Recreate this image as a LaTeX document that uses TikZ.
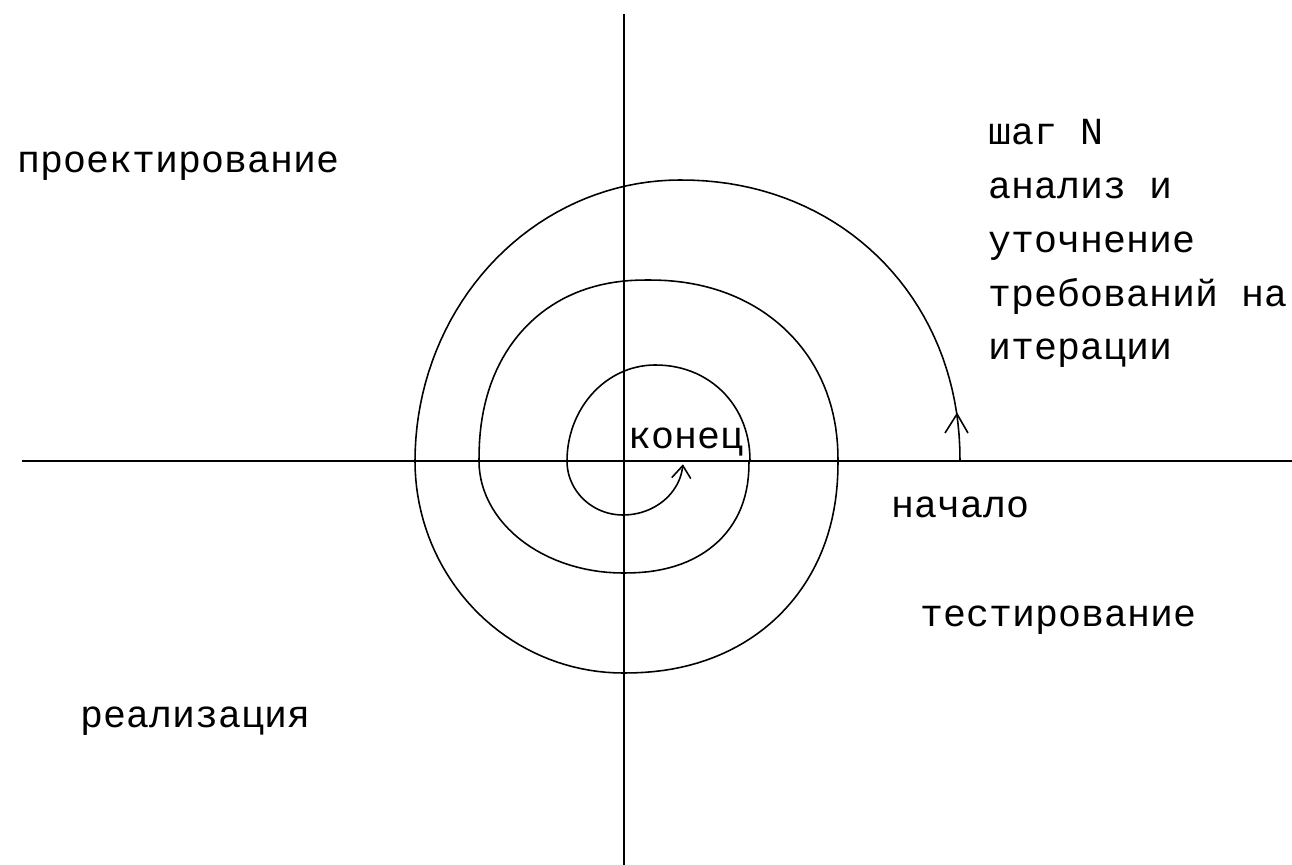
\documentclass[tikz,border=0pt]{standalone}
\usepackage{fontspec}
\usetikzlibrary{calc}
\newfontfamily\labelfont{Liberation Mono}
\begin{document}
\begin{tikzpicture}[x=0.02cm,y=-0.02cm,
  axis/.style={line width=1.2pt},
  spiralline/.style={line width=0.9pt,line join=round},
  headline/.style={line width=0.9pt},
  lbl/.style={anchor=base west,inner sep=0pt,font=\labelfont\fontsize{21.8pt}{30pt}\selectfont}]
\useasboundingbox (0,0) rectangle (1292,865);
% axes
\coordinate (hl) at (22,461);
\coordinate (hr) at (1292,461);
\coordinate (vt) at (624,14);
\coordinate (vb) at (624,865);
\draw[axis] (hl) -- (hr);
\draw[axis] (vt) -- (vb);
% spiral (quarter by quarter, counter-clockwise from "начало")
\coordinate (start) at (960,461);
\coordinate (finish) at (682.8,465.6);
\draw[spiralline] (start)
 -- plot[domain=0:90,samples=40,variable=\t]
   ({680+280*pow(abs(cos(\t))+0.00001,0.96)},{461-281*pow(abs(sin(\t))+0.00001,0.96)})
 -- plot[domain=90:180,samples=40,variable=\t]
   ({680-265*abs(cos(\t))},{461-281*abs(sin(\t))})
 -- plot[domain=180:270,samples=40,variable=\t]
   ({623-208*abs(cos(\t))},{461+212*abs(sin(\t))})
 -- plot[domain=270:360,samples=40,variable=\t]
   ({623+215*pow(abs(cos(\t))+0.00001,0.92)},{461+212*pow(abs(sin(\t))+0.00001,0.92)})
 -- plot[domain=0:90,samples=40,variable=\t]
   ({648+190*pow(abs(cos(\t))+0.00001,0.93)},{461-181*pow(abs(sin(\t))+0.00001,0.93)})
 -- plot[domain=90:180,samples=40,variable=\t]
   ({648-169*pow(abs(cos(\t))+0.00001,0.9)},{461-181*pow(abs(sin(\t))+0.00001,0.9)})
 -- plot[domain=180:270,samples=30,variable=\t]
   ({623-144*abs(cos(\t))},{461+112*abs(sin(\t))})
 -- plot[domain=270:360,samples=30,variable=\t]
   ({623+126*pow(abs(cos(\t))+0.00001,0.88)},{461+112*pow(abs(sin(\t))+0.00001,0.88)})
 -- plot[domain=0:90,samples=30,variable=\t]
   ({655+95*pow(abs(cos(\t))+0.00001,0.96)},{461-96*pow(abs(sin(\t))+0.00001,0.96)})
 -- plot[domain=90:180,samples=30,variable=\t]
   ({655-88*abs(cos(\t))},{461-96*abs(sin(\t))})
 -- plot[domain=180:270,samples=25,variable=\t]
   ({623-56*abs(cos(\t))},{461+54*abs(sin(\t))})
 -- plot[domain=270:355,samples=25,variable=\t]
   ({623+60*abs(cos(\t))},{461+54*abs(sin(\t))});
% arrowheads
\coordinate (a1) at (957,414);
\draw[headline] ($(a1)+(-12,19)$) -- (a1) -- ($(a1)+(11,19)$);
\draw[headline] ($(finish)+(-11,12)$) -- (finish) -- ($(finish)+(8,13)$);
% labels
\node[lbl] (proj) at (17,173) {проектирование};
\node[lbl] (step1) at (988,145) {шаг N};
\node[lbl] (step2) at (988,198) {анализ и};
\node[lbl] (step3) at (988,252) {уточнение};
\node[lbl] (step4) at (988,306) {требований на};
\node[lbl] (step5) at (988,359) {итерации};
\node[lbl] (end) at (628,448) {конец};
\node[lbl] (begin) at (891,517) {начало};
\node[lbl] (test) at (920,626) {тестирование};
\node[lbl] (impl) at (80,727) {реализация};
\end{tikzpicture}
\end{document}
